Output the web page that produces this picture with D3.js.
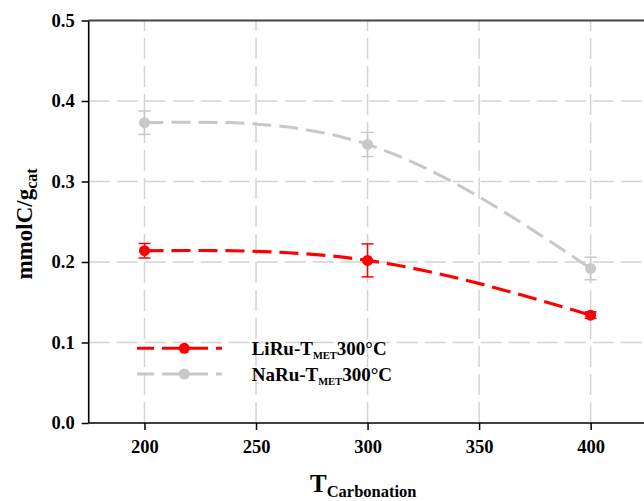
<!DOCTYPE html>
<html><head><meta charset="utf-8">
<script src="https://cdn.jsdelivr.net/npm/d3@7"></script>
<style>body{margin:0;background:#fff}svg{display:block}text{font-family:"Liberation Serif","Times New Roman",serif;font-weight:bold;fill:#000}</style>
</head><body>
<script>
const temps = [200, 300, 400];
const liValues = [0.214, 0.202, 0.134];
const liErrors = [0.009, 0.0205, 0.004];
const naValues = [0.373, 0.346, 0.192];
const naErrors = [0.0145, 0.015, 0.014];
const xTicks = [200, 250, 300, 350, 400];
const yTicks = [0, 0.1, 0.2, 0.3, 0.4, 0.5];
const seriesNames = ["LiRu-T", "NaRu-T"];
const seriesColors = ["#ff0000", "#c8c8c8"];

const W = 644, H = 501;
const svg = d3.select("body").append("svg").attr("width", W).attr("height", H);
const x = d3.scaleLinear().domain([175, 425]).range([88.7, 646.4]);
const y = d3.scaleLinear().domain([0, 0.5]).range([423, 20.5]);

// grid
const g = svg.append("g");
g.selectAll(".vg").data(xTicks).enter().append("line")
  .attr("x1", d => x(d)).attr("x2", d => x(d)).attr("y1", y(0)).attr("y2", y(0.5))
  .attr("stroke", "#d4d4d4").attr("stroke-width", 1.5).attr("stroke-dasharray", "21,7");
g.selectAll(".hg").data(yTicks.filter(d => d > 0 && d < 0.5)).enter().append("line")
  .attr("x1", x(175)).attr("x2", x(425)).attr("y1", d => y(d)).attr("y2", d => y(d))
  .attr("stroke", "#d4d4d4").attr("stroke-width", 1.5).attr("stroke-dasharray", "21,7");

const series = [
  {name: seriesNames[1], vals: naValues, errs: naErrors, color: seriesColors[1], w: 3},
  {name: seriesNames[0], vals: liValues, errs: liErrors, color: seriesColors[0], w: 3.2}
];
const line = d3.line().x(d => x(d[0])).y(d => y(d[1])).curve(d3.curveNatural);
series.forEach(s => {
  const pts = temps.map((t, i) => [t, s.vals[i], s.errs[i]]);
  svg.append("path").datum(pts).attr("d", line).attr("fill", "none")
    .attr("stroke", s.color).attr("stroke-width", s.w).attr("stroke-dasharray", "19,8");
  const eb = svg.append("g");
  pts.forEach(p => {
    const cx = x(p[0]);
    eb.append("line").attr("x1", cx).attr("x2", cx).attr("y1", y(p[1] - p[2])).attr("y2", y(p[1] + p[2]))
      .attr("stroke", s.color).attr("stroke-width", 1.5);
    [p[1] - p[2], p[1] + p[2]].forEach(v => eb.append("line")
      .attr("x1", cx - 6).attr("x2", cx + 6).attr("y1", y(v)).attr("y2", y(v))
      .attr("stroke", s.color).attr("stroke-width", 1.5));
    eb.append("circle").attr("cx", cx).attr("cy", y(p[1])).attr("r", 5.5).attr("fill", s.color);
  });
});

// axes
const xa = svg.append("g").attr("transform", `translate(0,${y(0)})`)
  .call(d3.axisBottom(x).tickValues(xTicks).tickSize(7).tickPadding(10).tickFormat(d3.format("d")));
const ya = svg.append("g").attr("transform", `translate(${x(175)},0)`)
  .call(d3.axisLeft(y).tickValues(yTicks).tickSize(7).tickPadding(7).tickFormat(d3.format(".1f")));
[xa, ya].forEach(a => {
  a.select(".domain").attr("stroke", "#000").attr("stroke-width", 1.6);
  a.selectAll(".tick line").attr("stroke", "#000").attr("stroke-width", 1.5);
  a.selectAll(".tick text").style("font-family", '"Liberation Serif", serif').style("font-weight", "bold").style("font-size", "18.5px").attr("fill", "#000");
});
xa.select(".domain").attr("d", `M${x(175)},0H${x(425)}`);
ya.select(".domain").attr("d", `M0,${y(0)}V${y(0.5)}`);
svg.append("line").attr("x1", x(175)).attr("x2", x(425)).attr("y1", y(0.5)).attr("y2", y(0.5))
  .attr("stroke", "#444").attr("stroke-width", 2);

// legend
const legY = [348.3, 374];
[0, 1].forEach(i => {
  const lg = svg.append("g");
  lg.append("line").attr("x1", 137).attr("x2", 222).attr("y1", legY[i]).attr("y2", legY[i])
    .attr("stroke", seriesColors[i]).attr("stroke-width", 3).attr("stroke-dasharray", "19,8").attr("stroke-dashoffset", 2);
  lg.append("circle").attr("cx", 184.3).attr("cy", legY[i]).attr("r", 5.5).attr("fill", seriesColors[i]);
  const t = lg.append("text").attr("x", 251.7).attr("y", legY[i] + 6.5).style("font-size", "19px");
  t.append("tspan").text(seriesNames[i]);
  t.append("tspan").text("MET").style("font-size", "10.5px").attr("dy", 4);
  t.append("tspan").text("300°C").attr("dy", -4);
});

// axis labels
const yl = svg.append("text").attr("transform", "translate(32,224) rotate(-90)")
  .attr("text-anchor", "middle").style("font-size", "23px");
yl.append("tspan").text("mmolC/g");
yl.append("tspan").text("cat").style("font-size", "16px").attr("dy", 5);

const xl = svg.append("text").attr("x", 310).attr("y", 492).style("font-size", "25px");
xl.append("tspan").text("T");
xl.append("tspan").text("Carbonation").style("font-size", "16.5px").attr("dy", 5);
</script>
</body></html>
